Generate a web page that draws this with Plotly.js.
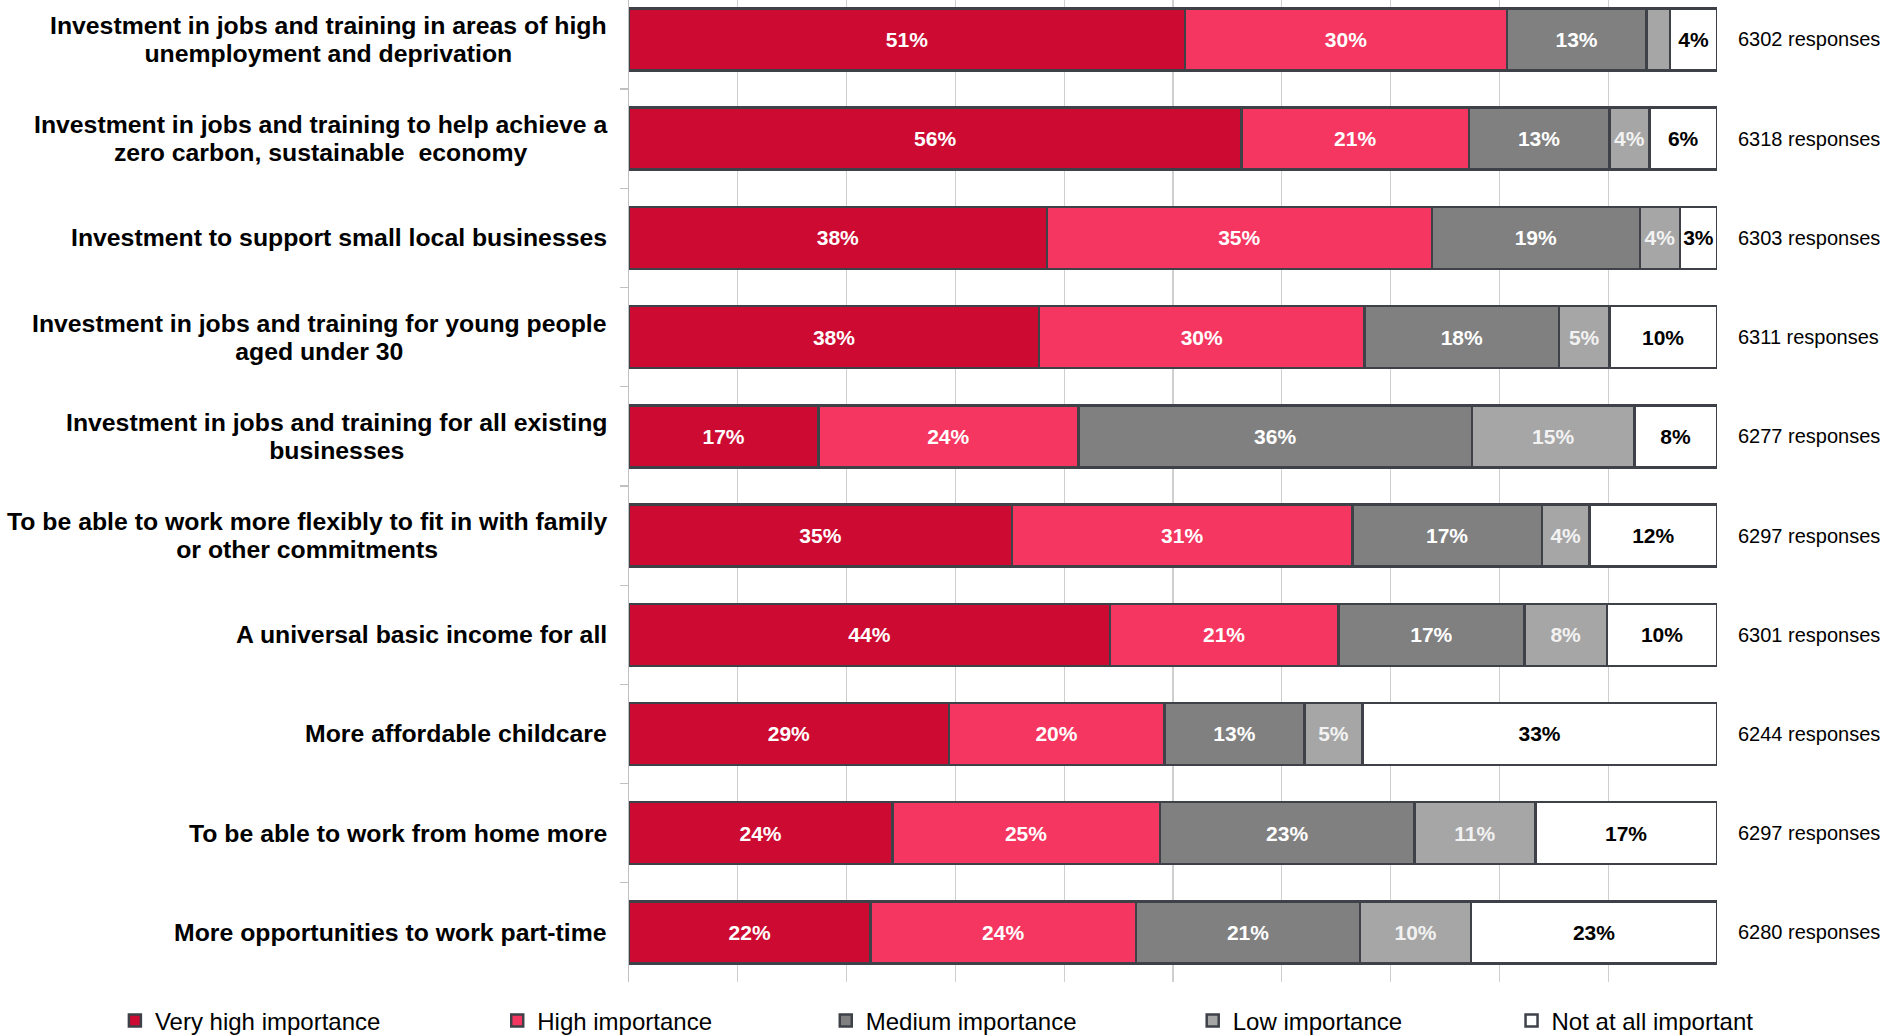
<!DOCTYPE html>
<html>
<head>
<meta charset="utf-8">
<script src="https://cdn.plot.ly/plotly-3.0.1.min.js"></script>
<style>
  html, body { margin: 0; padding: 0; background: #ffffff; }
  #chart { width: 1887px; height: 1036px; }
</style>
</head>
<body>
<div id="chart"></div>
<script>
// ---------- DATA ----------
const categories = [
  "Investment in jobs and training in areas of high<br>unemployment and deprivation",
  "Investment in jobs and training to help achieve a<br>zero carbon, sustainable  economy",
  "Investment to support small local businesses",
  "Investment in jobs and training for young people<br>aged under 30",
  "Investment in jobs and training for all existing<br>businesses",
  "To be able to work more flexibly to fit in with family<br>or other commitments",
  "A universal basic income for all",
  "More affordable childcare",
  "To be able to work from home more",
  "More opportunities to work part-time"
];
const seriesNames = ["Very high importance", "High importance", "Medium importance", "Low importance", "Not at all important"];
const veryHigh  = [51.1, 56.3, 38.4, 37.7, 17.4, 35.2, 44.2, 29.4, 24.2, 22.2];
const high      = [29.6, 20.9, 35.4, 29.9, 23.9, 31.3, 21.0, 19.8, 24.6, 24.4];
const medium    = [12.8, 12.9, 19.1, 17.9, 36.2, 17.4, 17.1, 12.9, 23.4, 20.6];
const low       = [ 2.2,  3.7,  3.7,  4.6, 14.9,  4.4,  7.6,  5.3, 11.1, 10.2];
const notAtAll  = [ 4.3,  6.2,  3.4,  9.9,  7.6, 11.7, 10.1, 32.6, 16.7, 22.6];
const responses = [6302, 6318, 6303, 6311, 6277, 6297, 6301, 6244, 6297, 6280];

// ---------- STYLE ----------
const FONT = "Liberation Sans, Arial, sans-serif";
const fillColors = ["#cc0a32", "#f53660", "#808080", "#a6a6a6", "#ffffff"];
const labelColors = ["#ffffff", "#ffffff", "#ffffff", "#f2f2f2", "#000000"];
const outline = "#3e4248";

const W = 1887, H = 1036;
const mL = 628.5, mR = 170.3, mT = 0, mB = 54;
const plotW = W - mL - mR, plotH = H - mT - mB;
const legendTextPx = [154.3, 536.7, 865.3, 1232.3, 1551.2];
const legendCenterPy = 1021;

const seriesValues = [veryHigh, high, medium, low, notAtAll];

const traces = seriesValues.map((vals, i) => ({
  type: "bar",
  orientation: "h",
  name: seriesNames[i],
  y: categories,
  x: vals,
  width: 0.625,
  marker: { color: fillColors[i], line: { color: outline, width: 2.5 } },
  text: vals.map(v => v >= 3 ? Math.round(v) + "%" : ""),
  textposition: "inside",
  insidetextanchor: "middle",
  textangle: 0,
  constraintext: "none",
  textfont: { family: FONT, size: 21, color: labelColors[i], weight: "bold" },
  hoverinfo: "skip",
  legend: i === 0 ? "legend" : "legend" + (i + 1)
}));

const annotations = [];
categories.forEach((c, k) => {
  const txt = c.split("<br>").map(l => '<span style="font-size:24.8px">' + l + '</span>').join("<br>");
  annotations.push({
    xref: "paper", yref: "y", x: 0, y: c,
    xanchor: "right", yanchor: "middle", xshift: -20,
    align: "center", showarrow: false,
    text: txt,
    font: { family: FONT, size: 21.3, color: "#000000", weight: "bold" }
  });
  annotations.push({
    xref: "paper", yref: "y", x: 1, y: c,
    xanchor: "left", yanchor: "middle", xshift: 19,
    align: "left", showarrow: false,
    text: responses[k] + " responses",
    font: { family: FONT, size: 20, color: "#000000" }
  });
});

const layout = {
  width: W, height: H,
  margin: { l: mL, r: mR, t: mT, b: mB, pad: 0, autoexpand: false },
  paper_bgcolor: "#ffffff",
  plot_bgcolor: "#ffffff",
  barmode: "stack",
  showlegend: true,
  xaxis: {
    range: [0, 100], dtick: 10, tick0: 0,
    showgrid: true, gridcolor: "#cfcfcf", gridwidth: 1.3,
    zeroline: false, showline: false, showticklabels: false, ticks: ""
  },
  yaxis: {
    type: "category", categoryorder: "array", categoryarray: categories,
    range: [9.5, -0.398],
    showgrid: false, zeroline: false,
    showline: true, linecolor: "#c0c0c0", linewidth: 1.3,
    ticks: "outside", tickson: "boundaries", ticklen: 8, tickcolor: "#c0c0c0", tickwidth: 1.3,
    showticklabels: false
  },
  annotations: annotations,
  font: { family: FONT, color: "#000000" }
};

seriesNames.forEach((n, i) => {
  const key = i === 0 ? "legend" : "legend" + (i + 1);
  layout[key] = {
    orientation: "h",
    xref: "paper", yref: "paper",
    x: (legendTextPx[i] - 40 - mL) / plotW,
    y: -(legendCenterPy - (mT + plotH)) / plotH,
    xanchor: "left", yanchor: "middle",
    bgcolor: "rgba(0,0,0,0)", borderwidth: 0,
    font: { family: FONT, size: 24, color: "#000000" },
    itemclick: false, itemdoubleclick: false
  };
});

Plotly.newPlot("chart", traces, layout, { staticPlot: true, displayModeBar: false });
</script>
</body>
</html>
